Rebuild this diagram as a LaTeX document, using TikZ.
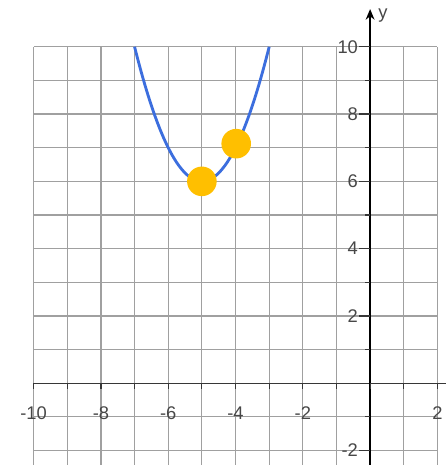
\documentclass[tikz,border=0pt]{standalone}
\usepackage{fontspec}
\setmainfont{Liberation Sans}
\usepackage{xcolor}
\usepackage{tikz}
\usetikzlibrary{arrows.meta}

\definecolor{gridgray}{RGB}{160,160,160}
\definecolor{axisgray}{RGB}{55,55,55}
\definecolor{curveblue}{RGB}{60,110,222}
\definecolor{dotyellow}{RGB}{255,191,0}

\begin{document}
\begin{tikzpicture}[>=Stealth,
    lbl/.style={text=black!72, font=\fontsize{15.5}{17}\selectfont, inner sep=1pt},
    dot/.style={circle, fill=dotyellow, minimum size=0.88cm, inner sep=0pt}]
    \useasboundingbox (-11.0,-2.43) rectangle (2.25,11.39);

    % Grid
    \foreach \x in {-10,...,2}
        \draw[gridgray, line width=1pt] (\x,-2.43) -- (\x,10);
    \foreach \y in {-2,...,10}
        \draw[gridgray, line width=1pt] (-10,\y) -- (2,\y);

    % Axes
    \draw[axisgray, line width=1.1pt] (-10,0) -- (2.25,0);
    \draw[->, black, line width=1.1pt, arrows={-Stealth[length=9pt,width=7.5pt]}] (0,-2.43) -- (0,11.12);
    \node[lbl, anchor=west] (ylabel) at (0.2,10.92) {y};

    % Ticks on the x-axis
    \foreach \x in {-10,...,2}
        \draw[axisgray, line width=1pt] (\x,0) -- (\x,-0.18);
    \foreach \x in {-10,-8,-6,-4,-2,2}
        \node[lbl] (xl\x) at (\x,-0.88) {\x};

    % Ticks on the y-axis
    \foreach \y in {-1,1,3,5,7,9}
        \draw[axisgray, line width=1pt] (0,\y) -- (-0.16,\y);
    \foreach \y in {-2,2,4,6,8,10} {
        \draw[axisgray, line width=1pt] (0,\y) -- (-0.32,\y);
        \node[lbl, anchor=east] (yl\y) at (-0.32,\y) {\y};
    }

    % Parabola
    \draw[curveblue, line width=2.4pt, domain=-7:-3, samples=80]
        plot (\x,{(\x+5)^2+6});

    % Points
    \node[dot] (vertex) at (-5,6) {};
    \node[dot] (second) at (-3.98,7.12) {};
\end{tikzpicture}
\end{document}
